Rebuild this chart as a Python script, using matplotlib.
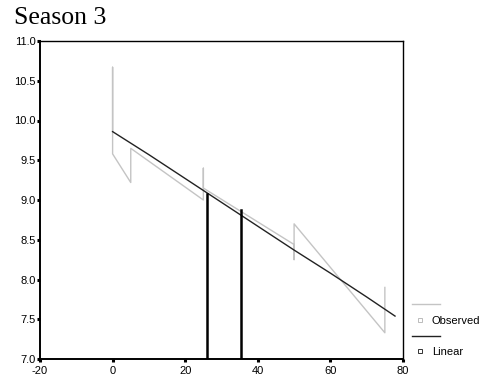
import matplotlib
matplotlib.use('Agg')
import matplotlib.pyplot as plt
from matplotlib.lines import Line2D

# observed series (sequence of points, repeated x gives the vertical jumps)
obs_x = [0, 0, 0, 5, 5, 25, 25, 25, 50, 50, 50, 75, 75]
obs_y = [9.86, 10.67, 9.58, 9.22, 9.65, 9.00, 9.40, 9.15, 8.44, 8.25, 8.70, 7.33, 7.90]

# linear fit
lin_x = [0, 10, 20, 30, 40, 50, 60, 70, 77.8]
lin_y = [9.86, 9.57, 9.27, 8.97, 8.67, 8.37, 8.08, 7.78, 7.54]

# vertical reference lines
ref_x = [26.1, 35.3]
ref_top = [9.08, 8.87]

xticks = [-20, 0, 20, 40, 60, 80]
yticks = [7.0, 7.5, 8.0, 8.5, 9.0, 9.5, 10.0, 10.5, 11.0]

plt.rcParams['font.family'] = ['Liberation Sans', 'DejaVu Sans']

fig = plt.figure(figsize=(4.87, 3.83), dpi=100)
ax = fig.add_axes([40/487, 24/383, 363/487, 318/383])

ax.plot(obs_x, obs_y, color='#c4c4c4', lw=1.0)
ax.plot(lin_x, lin_y, color='#222222', lw=1.0)
for x, t in zip(ref_x, ref_top):
    ax.plot([x, x], [7.0, t], color='black', lw=1.8)

ax.set_xlim(-20, 80)
ax.set_ylim(7.0, 11.0)
ax.set_xticks(xticks)
ax.set_xticklabels([str(v) for v in xticks])
ax.set_yticks(yticks)
ax.set_yticklabels(['%.1f' % v for v in yticks])
ax.tick_params(length=2, width=2.2, pad=1, labelsize=8, color='black')
ax.tick_params(axis='x', pad=3)
for s in ax.spines.values():
    s.set_linewidth(1.0)
ax.spines['left'].set_linewidth(1.4)
ax.spines['bottom'].set_linewidth(1.4)

fig.text(14/487, 1 - 24/383, 'Season 3', family='Liberation Serif', fontsize=18.5)

# legend drawn beside the plot
fig.add_artist(Line2D([412/487, 440/487], [1 - 304/383, 1 - 304/383], color='#c4c4c4', lw=1.0))
fig.add_artist(Line2D([420/487], [1 - 320/383], marker='s', ms=3.5, mfc='white', mec='#bbbbbb', mew=0.7, ls='none'))
fig.text(432/487, 1 - 321/383, 'Observed', fontsize=8, va='center')
fig.add_artist(Line2D([412/487, 440/487], [1 - 336/383, 1 - 336/383], color='#222222', lw=1.0))
fig.add_artist(Line2D([420/487], [1 - 351/383], marker='s', ms=3.5, mfc='white', mec='#333333', mew=0.7, ls='none'))
fig.text(432/487, 1 - 352/383, 'Linear', fontsize=8, va='center')

fig.savefig('out.png', dpi=100)
